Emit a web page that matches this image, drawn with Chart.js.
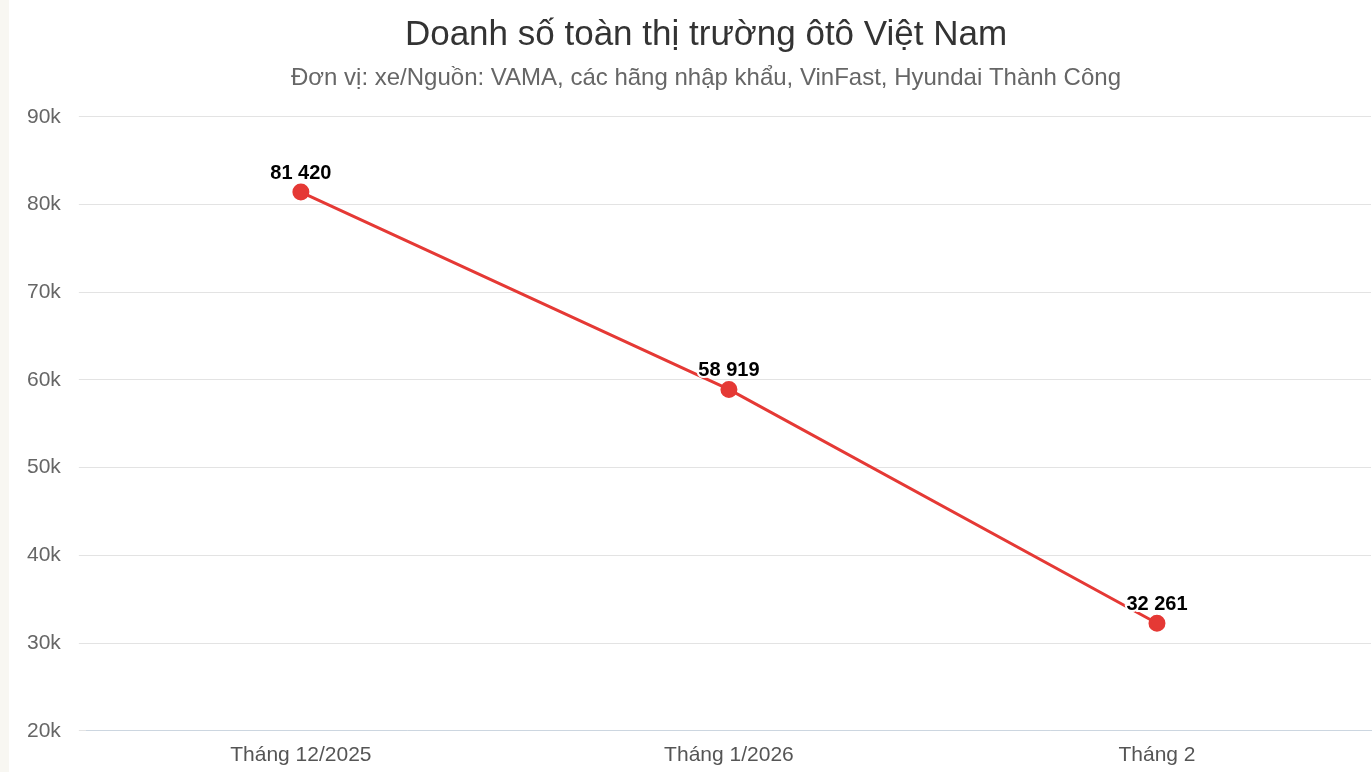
<!DOCTYPE html>
<html><head><meta charset="utf-8">
<script src="https://cdn.jsdelivr.net/npm/chart.js@4"></script>
<style>
html,body{margin:0;padding:0;background:#fff;overflow:hidden}
#strip{position:absolute;left:0;top:0;width:9px;height:772px;background:#f8f7f2}
#wrap{position:absolute;left:9px;top:0;width:1372px;height:772px}
</style></head><body>
<div id="strip"></div>
<div id="wrap"><canvas id="c"></canvas></div>
<script>
const categories = ["Tháng 12/2025", "Tháng 1/2026", "Tháng 2"];
const sales = [81420, 58919, 32261];
const yTicks = [20000, 30000, 40000, 50000, 60000, 70000, 80000, 90000];
const fmt = v => String(v).replace(/\B(?=(\d{3})+(?!\d))/g, " ");
const labelsPlugin = {
  id: "vals",
  afterDatasetsDraw(chart) {
    const ctx = chart.ctx;
    chart.getDatasetMeta(0).data.forEach((p, i) => {
      ctx.save();
      ctx.font = "bold 20px 'Liberation Sans', Arial";
      ctx.fillStyle = "#000";
      ctx.textAlign = "center";
      ctx.textBaseline = "bottom";
      ctx.lineWidth = 4; ctx.strokeStyle = "#fff";
      ctx.strokeText(fmt(sales[i]), p.x, p.y - 9);
      ctx.fillText(fmt(sales[i]), p.x, p.y - 9);
      ctx.restore();
    });
  }
};
new Chart(document.getElementById("c"), {
  type: "line",
  data: { labels: categories, datasets: [{ data: sales, borderColor: "#e53935", backgroundColor: "#e53935", borderWidth: 3, pointRadius: 7, pointHoverRadius: 7, tension: 0 }] },
  options: {
    responsive: true, maintainAspectRatio: false, animation: false,
    layout: { padding: { left: 0, right: -22, top: 8, bottom: 0 } },
    plugins: {
      legend: { display: false }, tooltip: { enabled: false },
      title: { display: true, text: "Doanh số toàn thị trường ôtô Việt Nam", color: "#333", font: { size: 35, family: "'Liberation Sans', Arial", weight: "normal" }, padding: { top: 6, bottom: 8 } },
      subtitle: { display: true, text: "Đơn vị: xe/Nguồn: VAMA, các hãng nhập khẩu, VinFast, Hyundai Thành Công", color: "#666", font: { size: 24, family: "'Liberation Sans', Arial" }, padding: { bottom: 24 } }
    },
    scales: {
      x: { offset: true, grid: { display: false }, border: { color: "#ccd6e0" }, ticks: { color: "#555", font: { size: 21, family: "'Liberation Sans', Arial" }, padding: 4 } },
      y: { min: 20000, max: 90000, afterBuildTicks: s => { s.ticks = yTicks.map(v => ({ value: v })); },
           grid: { color: "#e3e3e3" }, border: { display: false },
           ticks: { color: "#666", font: { size: 21, family: "'Liberation Sans', Arial" }, padding: 18, callback: v => (v / 1000) + "k" } }
    }
  },
  plugins: [labelsPlugin]
});
</script></body></html>
